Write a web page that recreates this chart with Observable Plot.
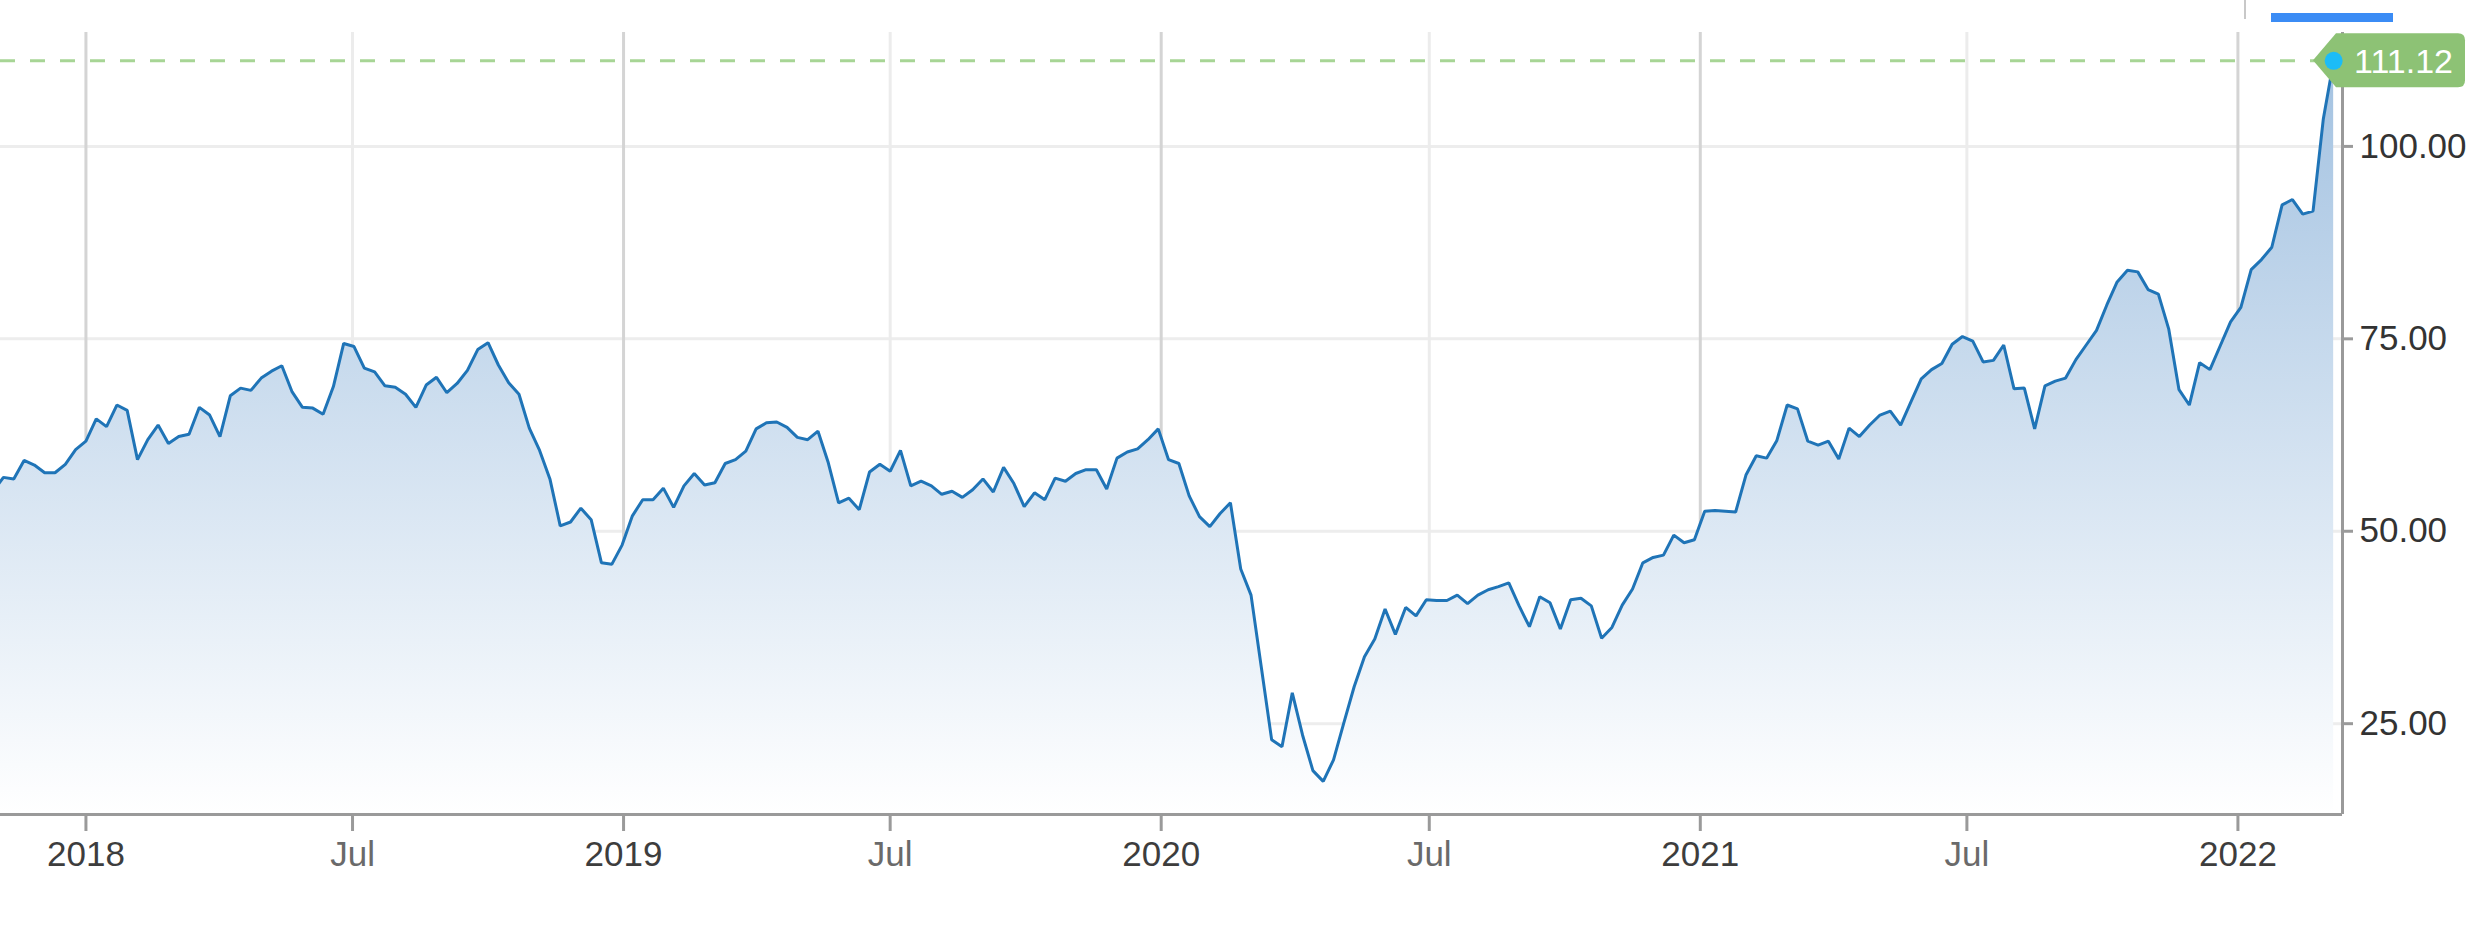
<!DOCTYPE html>
<html>
<head>
<meta charset="utf-8">
<script src="https://cdn.jsdelivr.net/npm/d3@7"></script>
<script src="https://cdn.jsdelivr.net/npm/@observablehq/plot@0.6"></script>
<style>
  html, body { margin: 0; padding: 0; background: #ffffff; width: 2470px; height: 934px; overflow: hidden; }
  #wrap { position: relative; width: 2470px; height: 934px; }
  #wrap svg { position: absolute; left: 0; top: 0; }
  #navbar { position: absolute; left: 2271px; top: 13px; width: 122px; height: 9px; background: #3b8cf5; z-index: 2; }
  #navtick { position: absolute; left: 2244px; top: 0; width: 2px; height: 19px; background: #c8c8c8; z-index: 2; }
</style>
</head>
<body>
<div id="wrap"><div id="navtick"></div><div id="navbar"></div></div>
<script>
// ---- data (weekly closes) ----
const startDate = "2017-10-30";   // first weekly observation
const weekStepDays = 7;
const values = [
  55.2, 57.0, 56.8, 59.2, 58.6, 57.6, 57.6, 58.7, 60.6, 61.7,
  64.6, 63.6, 66.4, 65.7, 59.3, 61.9, 63.8, 61.4, 62.3, 62.6,
  66.1, 65.1, 62.3, 67.6, 68.6, 68.3, 69.9, 70.8, 71.5, 68.1,
  66.1, 66.0, 65.2, 68.8, 74.4, 74.0, 71.2, 70.7, 68.9, 68.7,
  67.8, 66.1, 69.0, 70.0, 68.0, 69.2, 70.9, 73.6,
  74.5, 71.6, 69.3, 67.8, 63.4, 60.5, 56.8, 50.7, 51.2, 53.0,
  51.5, 45.9, 45.7, 48.2, 52.0, 54.1, 54.1, 55.6, 53.1, 55.9,
  57.5, 56.0, 56.3, 58.8, 59.3, 60.4, 63.3, 64.1, 64.2, 63.5,
  62.2, 61.9, 63.0, 58.9, 53.7, 54.3, 52.8, 57.7, 58.7, 57.8,
  60.5, 55.9, 56.5, 55.9, 54.8,
  55.2, 54.4, 55.4, 56.8, 55.1, 58.3, 56.2, 53.2, 55.0, 54.1,
  56.9, 56.5, 57.5, 58.0, 58.0, 55.5, 59.5, 60.3, 60.7, 61.9,
  63.3, 59.3, 58.8, 54.6, 51.9, 50.6, 52.3, 53.7, 45.1, 41.7,
  32.3, 22.9, 22.0, 29.0, 23.5, 18.9, 17.5, 20.3, 25.1, 29.8,
  33.7, 36.0, 39.9, 36.6, 40.1, 39.0,
  41.1, 41.0, 41.0, 41.7, 40.6, 41.7, 42.4, 42.8, 43.3, 40.3,
  37.6, 41.5, 40.7, 37.3, 41.1, 41.3, 40.3, 36.1, 37.5, 40.4,
  42.5, 45.9, 46.6, 46.9, 49.5, 48.5, 48.9, 52.6, 52.7, 52.6,
  52.5, 57.3, 59.8, 59.5, 61.8, 66.4, 65.9, 61.7, 61.2, 61.7,
  59.4, 63.4, 62.3, 63.8, 65.1, 65.6,
  63.8, 66.8, 69.8, 71.0, 71.8, 74.3, 75.3, 74.7, 72.0, 72.2,
  74.2, 68.5, 68.6, 63.3, 68.9, 69.5, 69.9, 72.3, 74.2, 76.1,
  79.4, 82.4, 83.9, 83.7, 81.4, 80.8, 76.3, 68.4, 66.4, 71.9,
  71.0, 74.1, 77.2, 79.1, 84.0, 85.3, 86.9, 92.4, 93.1, 91.2,
  91.6, 103.6, 111.12
];
const lastLabel = "111.12";

// ---- axes ----
const yTicks = [25, 50, 75, 100];
const yearTicks = ["2018-01-01", "2019-01-01", "2020-01-01", "2021-01-01", "2022-01-01"];
const yearLabels = ["2018", "2019", "2020", "2021", "2022"];
const julTicks = ["2018-07-01", "2019-07-01", "2020-07-01", "2021-07-01"];
const julLabel = "Jul";
const xDomain = ["2017-11-04", "2022-03-13"];
const yDomain = [13.2, 114.8];

(function () {
  const start = new Date(startDate + "T00:00:00Z");
  const data = values.map((v, i) => ({ date: d3.utcDay.offset(start, weekStepDays * i), value: v }));
  const last = data[data.length - 1];
  const toDate = s => new Date(s + "T00:00:00Z");
  const yearDates = yearTicks.map(toDate);
  const julDates = julTicks.map(toDate);
  const yearMap = new Map(yearDates.map((d, i) => [+d, yearLabels[i]]));
  const xDom = xDomain.map(toDate);

  const font = "'Liberation Sans', Arial, Helvetica, sans-serif";
  const W = 2470, H = 934, MT = 32, MB = 120, ML = 0, MR = 128;

  const plot = Plot.plot({
    width: W, height: H,
    marginTop: MT, marginBottom: MB, marginLeft: ML, marginRight: MR,
    style: { fontFamily: font, background: "transparent", overflow: "visible" },
    x: { type: "utc", domain: xDom, label: null },
    y: { domain: yDomain, label: null },
    marks: [
      Plot.gridY(yTicks, { stroke: "#ededed", strokeOpacity: 1, strokeWidth: 3 }),
      Plot.gridX(julDates, { stroke: "#ececec", strokeOpacity: 1, strokeWidth: 3 }),
      Plot.gridX(yearDates, { stroke: "#d4d4d4", strokeOpacity: 1, strokeWidth: 3 }),
      Plot.areaY(data, { x: "date", y: "value", y1: yDomain[0], fill: "url(#areaGrad)", clip: true }),
      Plot.lineY(data, { x: "date", y: "value", stroke: "#1f74b7", strokeWidth: 3, strokeLinejoin: "miter", clip: true }),
      Plot.ruleY([last.value], { stroke: "#a7d595", strokeWidth: 3, strokeDasharray: "15,15" }),
      Plot.ruleY([yDomain[0]], { stroke: "#9a9a9a", strokeWidth: 3 }),
      Plot.ruleX([xDom[1]], { stroke: "#9a9a9a", strokeWidth: 3 }),
      Plot.axisY(yTicks, {
        anchor: "right", label: null, tickSize: 10, tickPadding: 7, fontSize: 35,
        tickFormat: d => d.toFixed(2), stroke: "#9a9a9a", strokeWidth: 3, fill: "#333333"
      }),
      Plot.axisX(yearDates, {
        anchor: "bottom", label: null, tickSize: 17, tickPadding: 10, fontSize: 35,
        tickFormat: d => yearMap.get(+d), stroke: "#9a9a9a", strokeWidth: 3, fill: "#3d3d3d"
      }),
      Plot.axisX(julDates, {
        anchor: "bottom", label: null, tickSize: 17, tickPadding: 10, fontSize: 35,
        tickFormat: () => julLabel, stroke: "#9a9a9a", strokeWidth: 3, fill: "#6a6a6a"
      }),
      Plot.dot([last], { x: "date", y: "value", r: 9, fill: "#1cbcf7", stroke: "none" })
    ]
  });

  // gradient for the area
  const NS = "http://www.w3.org/2000/svg";
  const defs = document.createElementNS(NS, "defs");
  const grad = document.createElementNS(NS, "linearGradient");
  grad.setAttribute("id", "areaGrad");
  grad.setAttribute("x1", "0"); grad.setAttribute("y1", "0");
  grad.setAttribute("x2", "0"); grad.setAttribute("y2", "1");
  [["0", "#a3c2e1"], ["1", "#ffffff"]].forEach(([o, c]) => {
    const s = document.createElementNS(NS, "stop");
    s.setAttribute("offset", o); s.setAttribute("stop-color", c);
    grad.appendChild(s);
  });
  defs.appendChild(grad);
  plot.insertBefore(defs, plot.firstChild);

  // last-value flag, positioned from the plot's own scales
  const ys = plot.scale("y");
  const py = ys.apply(last.value);
  const fr = W - MR;
  const tipX = fr - 29, bl = fr - 6, br = fr + 123, fTop = py - 27, fBot = py + 27, rr = 7;
  const flag = document.createElementNS(NS, "g");
  const path = document.createElementNS(NS, "path");
  path.setAttribute("d",
    `M${tipX},${py} L${bl},${fTop} H${br - rr} Q${br},${fTop} ${br},${fTop + rr} V${fBot - rr} Q${br},${fBot} ${br - rr},${fBot} H${bl} Z`);
  path.setAttribute("fill", "#8dc275");
  flag.appendChild(path);
  const txt = document.createElementNS(NS, "text");
  txt.setAttribute("x", fr + 12);
  txt.setAttribute("y", py + 12.5);
  txt.setAttribute("fill", "#ffffff");
  txt.setAttribute("text-anchor", "start");
  txt.setAttribute("font-size", "34");
  txt.setAttribute("font-family", font);
  txt.textContent = lastLabel;
  flag.appendChild(txt);
  const dotG = plot.querySelector('g[aria-label="dot"]');
  if (dotG) plot.insertBefore(flag, dotG); else plot.appendChild(flag);

  document.getElementById("wrap").appendChild(plot);
})();
</script>
</body>
</html>
